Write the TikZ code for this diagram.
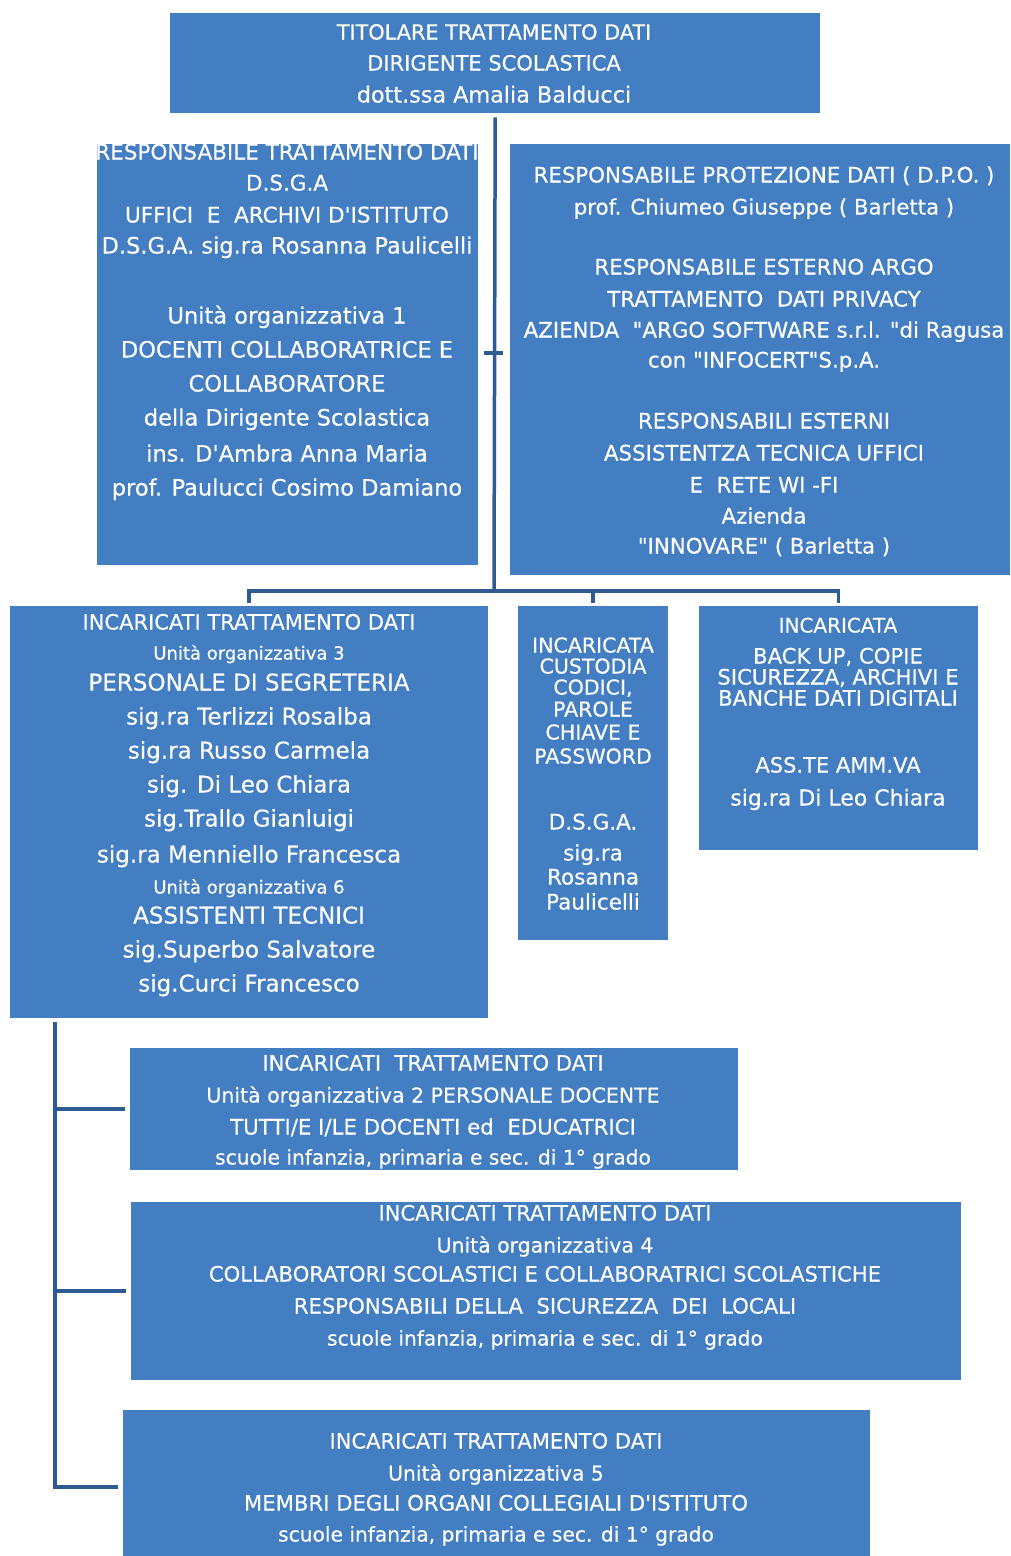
\documentclass[tikz,border=0pt]{standalone}
\usepackage{fontspec}
\setmainfont{DejaVu Sans}[Ligatures=TeXOff, FakeBold=0.3]
\definecolor{boxblue}{RGB}{68,126,194}
\definecolor{lineblue}{RGB}{46,91,145}
\tikzset{
  box/.style={fill=boxblue, draw=none, inner sep=0, anchor=north west},
  conn/.style={draw=lineblue, line width=3.5pt},
  txt/.style={text=white, inner sep=0, anchor=base, yshift=-7.5pt},
  fz/.style={font=\fontsize{#1}{#1}\selectfont}
}
\begin{document}
\begin{tikzpicture}[x=1pt,y=-1pt]
\useasboundingbox (0,0) rectangle (1010,1556);
\clip (0,0) rectangle (1010,1556);
% boxes
\node[box, minimum width=650pt, minimum height=100pt] (top) at (170,13) {};
\node[box, minimum width=381pt, minimum height=421pt] (boxL) at (97,144) {};
\node[box, minimum width=500pt, minimum height=431pt] (boxR) at (510,144) {};
\node[box, minimum width=478pt, minimum height=412pt] (boxA) at (10,606) {};
\node[box, minimum width=150pt, minimum height=334pt] (boxB) at (518,606) {};
\node[box, minimum width=279pt, minimum height=244pt] (boxC) at (699,606) {};
\node[box, minimum width=608pt, minimum height=122pt] (boxD) at (130,1048) {};
\node[box, minimum width=830pt, minimum height=178pt] (boxE) at (131,1202) {};
\node[box, minimum width=747pt, minimum height=154pt] (boxF) at (123,1410) {};
% connectors
\coordinate (j1) at (494,591);
\coordinate (k1) at (494,353);
\coordinate (trunk) at (55,1022);
\draw[conn] ([yshift=-4pt]top.south) -- (j1);
\draw[conn, shorten <=3pt, shorten >=3pt] (boxA.north) |- (j1) -| (boxC.north);
\draw[conn, shorten >=3pt] (boxB.north |- j1) -- (boxB.north);
\draw[conn, shorten <=6pt, shorten >=7pt] (boxL.east |- k1) -- (boxR.west |- k1);
\draw[conn, shorten >=5pt] (trunk) |- (boxF.west);
\draw[conn, shorten >=5pt] (trunk |- boxD.west) -- (boxD.west);
\draw[conn, shorten >=5pt] (trunk |- boxE.west) -- (boxE.west);
% top texts
\node[txt, fz=20.8] (t1) at (494,32) {TITOLARE TRATTAMENTO DATI};
\node[txt, fz=21] (t2) at (494,63) {DIRIGENTE SCOLASTICA};
\node[txt, fz=22.3] (t3) at (494,95) {dott.ssa Amalia Balducci};
% left box texts
\node[txt, fz=21.5] (l1) at (287,152) {RESPONSABILE TRATTAMENTO DATI};
\node[txt, fz=21.5] (l2) at (287,183) {D.S.G.A};
\node[txt, fz=21.5] (l3) at (287,215) {UFFICI\ \ E\ \ ARCHIVI D'ISTITUTO};
\node[txt, fz=22.5] (l4) at (287,246) {D.S.G.A. sig.ra Rosanna Paulicelli};
\node[txt, fz=22.5] (l5) at (287,316) {Unità organizzativa 1};
\node[txt, fz=22.5] (l6) at (287,350) {DOCENTI COLLABORATRICE E};
\node[txt, fz=22.5] (l7) at (287,384) {COLLABORATORE};
\node[txt, fz=22.5] (l8) at (287,418) {della Dirigente Scolastica};
\node[txt, fz=22.5] (l9) at (287,454) {ins. D'Ambra Anna Maria};
\node[txt, fz=22.5] (l10) at (287,488) {prof. Paulucci Cosimo Damiano};
% right box texts
\node[txt, fz=21.3] (r1) at (764,175) {RESPONSABILE PROTEZIONE DATI ( D.P.O. )};
\node[txt, fz=21.3] (r2) at (764,207) {prof. Chiumeo Giuseppe ( Barletta )};
\node[txt, fz=21.3] (r3) at (764,267) {RESPONSABILE ESTERNO ARGO};
\node[txt, fz=21.3] (r4) at (764,299) {TRATTAMENTO\ \ DATI PRIVACY};
\node[txt, fz=21.3] (r5) at (764,330) {AZIENDA\ \ "ARGO SOFTWARE s.r.l. "di Ragusa};
\node[txt, fz=21.3] (r6) at (764,360) {con "INFOCERT"S.p.A.};
\node[txt, fz=21.3] (r7) at (764,421) {RESPONSABILI ESTERNI};
\node[txt, fz=21.3] (r8) at (764,453) {ASSISTENTZA TECNICA UFFICI};
\node[txt, fz=21.3] (r9) at (764,485) {E\ \ RETE WI -FI};
\node[txt, fz=21.3] (r10) at (764,516) {Azienda};
\node[txt, fz=21.3] (r11) at (764,546) {"INNOVARE" ( Barletta )};
% box A texts
\node[txt, fz=21] (a1) at (249,622) {INCARICATI TRATTAMENTO DATI};
\node[txt, fz=18] (a2) at (249,652) {Unità organizzativa 3};
\node[txt, fz=23] (a3) at (249,683) {PERSONALE DI SEGRETERIA};
\node[txt, fz=23] (a4) at (249,717) {sig.ra Terlizzi Rosalba};
\node[txt, fz=23] (a5) at (249,751) {sig.ra Russo Carmela};
\node[txt, fz=23] (a6) at (249,785) {sig. Di Leo Chiara};
\node[txt, fz=23] (a7) at (249,819) {sig.Trallo Gianluigi};
\node[txt, fz=23] (a8) at (249,855) {sig.ra Menniello Francesca};
\node[txt, fz=18] (a9) at (249,886) {Unità organizzativa 6};
\node[txt, fz=23] (a10) at (249,916) {ASSISTENTI TECNICI};
\node[txt, fz=23] (a11) at (249,950) {sig.Superbo Salvatore};
\node[txt, fz=23] (a12) at (249,984) {sig.Curci Francesco};
% box B texts
\node[txt, fz=20.5] (b1) at (593,645) {INCARICATA};
\node[txt, fz=20.5] (b2) at (593,666) {CUSTODIA};
\node[txt, fz=20.5] (b3) at (593,687) {CODICI,};
\node[txt, fz=20.5] (b4) at (593,709) {PAROLE};
\node[txt, fz=20.5] (b5) at (593,732) {CHIAVE E};
\node[txt, fz=20.5] (b6) at (593,756) {PASSWORD};
\node[txt, fz=21.5] (b7) at (593,822) {D.S.G.A.};
\node[txt, fz=21.5] (b8) at (593,853) {sig.ra};
\node[txt, fz=21.5] (b9) at (593,877) {Rosanna};
\node[txt, fz=21.5] (b10) at (593,902) {Paulicelli};
% box C texts
\node[txt, fz=20] (c1) at (838,625) {INCARICATA};
\node[txt, fz=21.2] (c2) at (838,656) {BACK UP, COPIE};
\node[txt, fz=21.2] (c3) at (838,677) {SICUREZZA, ARCHIVI E};
\node[txt, fz=21.2] (c4) at (838,698) {BANCHE DATI DIGITALI};
\node[txt, fz=21] (c5) at (838,765) {ASS.TE AMM.VA};
\node[txt, fz=22] (c6) at (838,798) {sig.ra Di Leo Chiara};
% box D texts
\node[txt, fz=21.1] (d1) at (433,1063) {INCARICATI\ \ TRATTAMENTO DATI};
\node[txt, fz=20.5] (d2) at (433,1095) {Unità organizzativa 2 PERSONALE DOCENTE};
\node[txt, fz=21.3] (d3) at (433,1127) {TUTTI/E I/LE DOCENTI ed\ \ EDUCATRICI};
\node[txt, fz=20.2] (d4) at (433,1157) {scuole infanzia, primaria e sec. di 1° grado};
% box E texts
\node[txt, fz=21] (e1) at (545,1213) {INCARICATI TRATTAMENTO DATI};
\node[txt, fz=20.4] (e2) at (545,1245) {Unità organizzativa 4};
\node[txt, fz=21.1] (e3) at (545,1274) {COLLABORATORI SCOLASTICI E COLLABORATRICI SCOLASTICHE};
\node[txt, fz=21.2] (e4) at (545,1306) {RESPONSABILI DELLA\ \ SICUREZZA\ \ DEI\ \ LOCALI};
\node[txt, fz=20.2] (e5) at (545,1338) {scuole infanzia, primaria e sec. di 1° grado};
% box F texts
\node[txt, fz=21] (f1) at (496,1441) {INCARICATI TRATTAMENTO DATI};
\node[txt, fz=20.3] (f2) at (496,1473) {Unità organizzativa 5};
\node[txt, fz=21.2] (f3) at (496,1503) {MEMBRI DEGLI ORGANI COLLEGIALI D'ISTITUTO};
\node[txt, fz=20.2] (f4) at (496,1534) {scuole infanzia, primaria e sec. di 1° grado};
\end{tikzpicture}
\end{document}
